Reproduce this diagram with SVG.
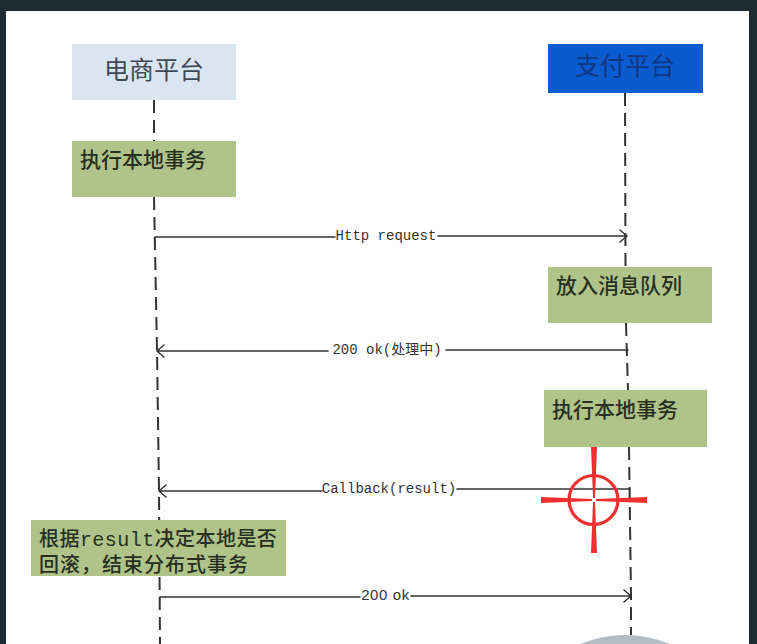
<svg xmlns="http://www.w3.org/2000/svg" width="757" height="644" viewBox="0 0 757 644">
<style>
.cjk{font-family:"Liberation Mono","Noto Sans CJK SC",monospace;fill:#27301f;font-weight:500}
.lbl{font-family:"Liberation Mono","Noto Sans CJK SC",monospace;font-size:14px;fill:#333;text-anchor:middle}
.box{fill:#b0c48a}
.life{fill:none;stroke:#333;stroke-width:2;stroke-dasharray:13 7}
.msg{fill:none;stroke:#333;stroke-width:1.500;stroke-linecap:round;stroke-linejoin:round}
.red{fill:none;stroke:#f03030}
</style>
<rect id="frame" width="757" height="644" fill="#1f2b33"/>
<rect x="6" y="11" width="743" height="633" fill="#fefefe"/>
<path d="M580 644Q625 626 670 644Z" fill="#b4bcc4"/>
<g id="connectors">
<path class="life" d="M154 100L154 141M154 197L157 350L159 491L160 644"/>
<path class="life" d="M625 93L625.500 267M626 323L628 390M629 447L631 596L631 635"/>
<path class="msg" d="M155 237H335M438 236H627M620 230L627 236L620 242"/>
<path class="msg" d="M157 351H328M446 350H628M164 345L157 351L164 357"/>
<path class="msg" d="M159 491H322M457 489H630M166 485L159 491L166 497"/>
<path class="msg" d="M160 597H360M411 596H631M624 590L631 596L624 602"/>
<text class="lbl" x="386" y="240">Http request</text>
<text class="lbl" x="387" y="354">200 ok(处理中)</text>
<text class="lbl" x="389" y="493">Callback(result)</text>
<text class="lbl" x="385.500" y="600" style="font-family:'Liberation Sans';font-size:15px;letter-spacing:.6px">200 ok</text>
</g>
<g id="node-ecommerce"><rect x="72" y="44" width="164" height="56" fill="#dbe5f2"/><text class="cjk" x="154" y="79" font-size="25" text-anchor="middle" style="fill:#3f4a55;font-weight:400">电商平台</text></g>
<g id="node-payment"><rect x="548" y="44" width="155" height="49" fill="#0a5bd0"/><text class="cjk" x="625" y="75" font-size="25" text-anchor="middle" style="fill:#0f3680;font-weight:400">支付平台</text></g>
<g id="node-local1"><rect class="box" x="72" y="141" width="164" height="56"/><text class="cjk" x="80" y="167" font-size="21">执行本地事务</text></g>
<g id="node-queue"><rect class="box" x="548" y="267" width="164" height="56"/><text class="cjk" x="556" y="293" font-size="21">放入消息队列</text></g>
<g id="node-local2"><rect class="box" x="544" y="390" width="163" height="57"/><text class="cjk" x="552" y="417" font-size="21">执行本地事务</text></g>
<g id="node-result"><rect class="box" x="31" y="520" width="255" height="56"/><text class="cjk" x="39" y="546" font-size="20" style="letter-spacing:.45px">根据result决定本地是否</text><text class="cjk" x="39" y="572" font-size="20" style="letter-spacing:1px">回滚，结束分布式事务</text></g>
<g id="crosshair">
<circle class="red" cx="593.500" cy="500" r="24.500" stroke-width="3.200"/>
<path fill="#f03030" d="M591 447H597L595 498H593ZM593 502H595L597 553H591ZM541 497L592 499V501L541 503ZM596 499L647 497V503L596 501Z"/>
</g>
</svg>
